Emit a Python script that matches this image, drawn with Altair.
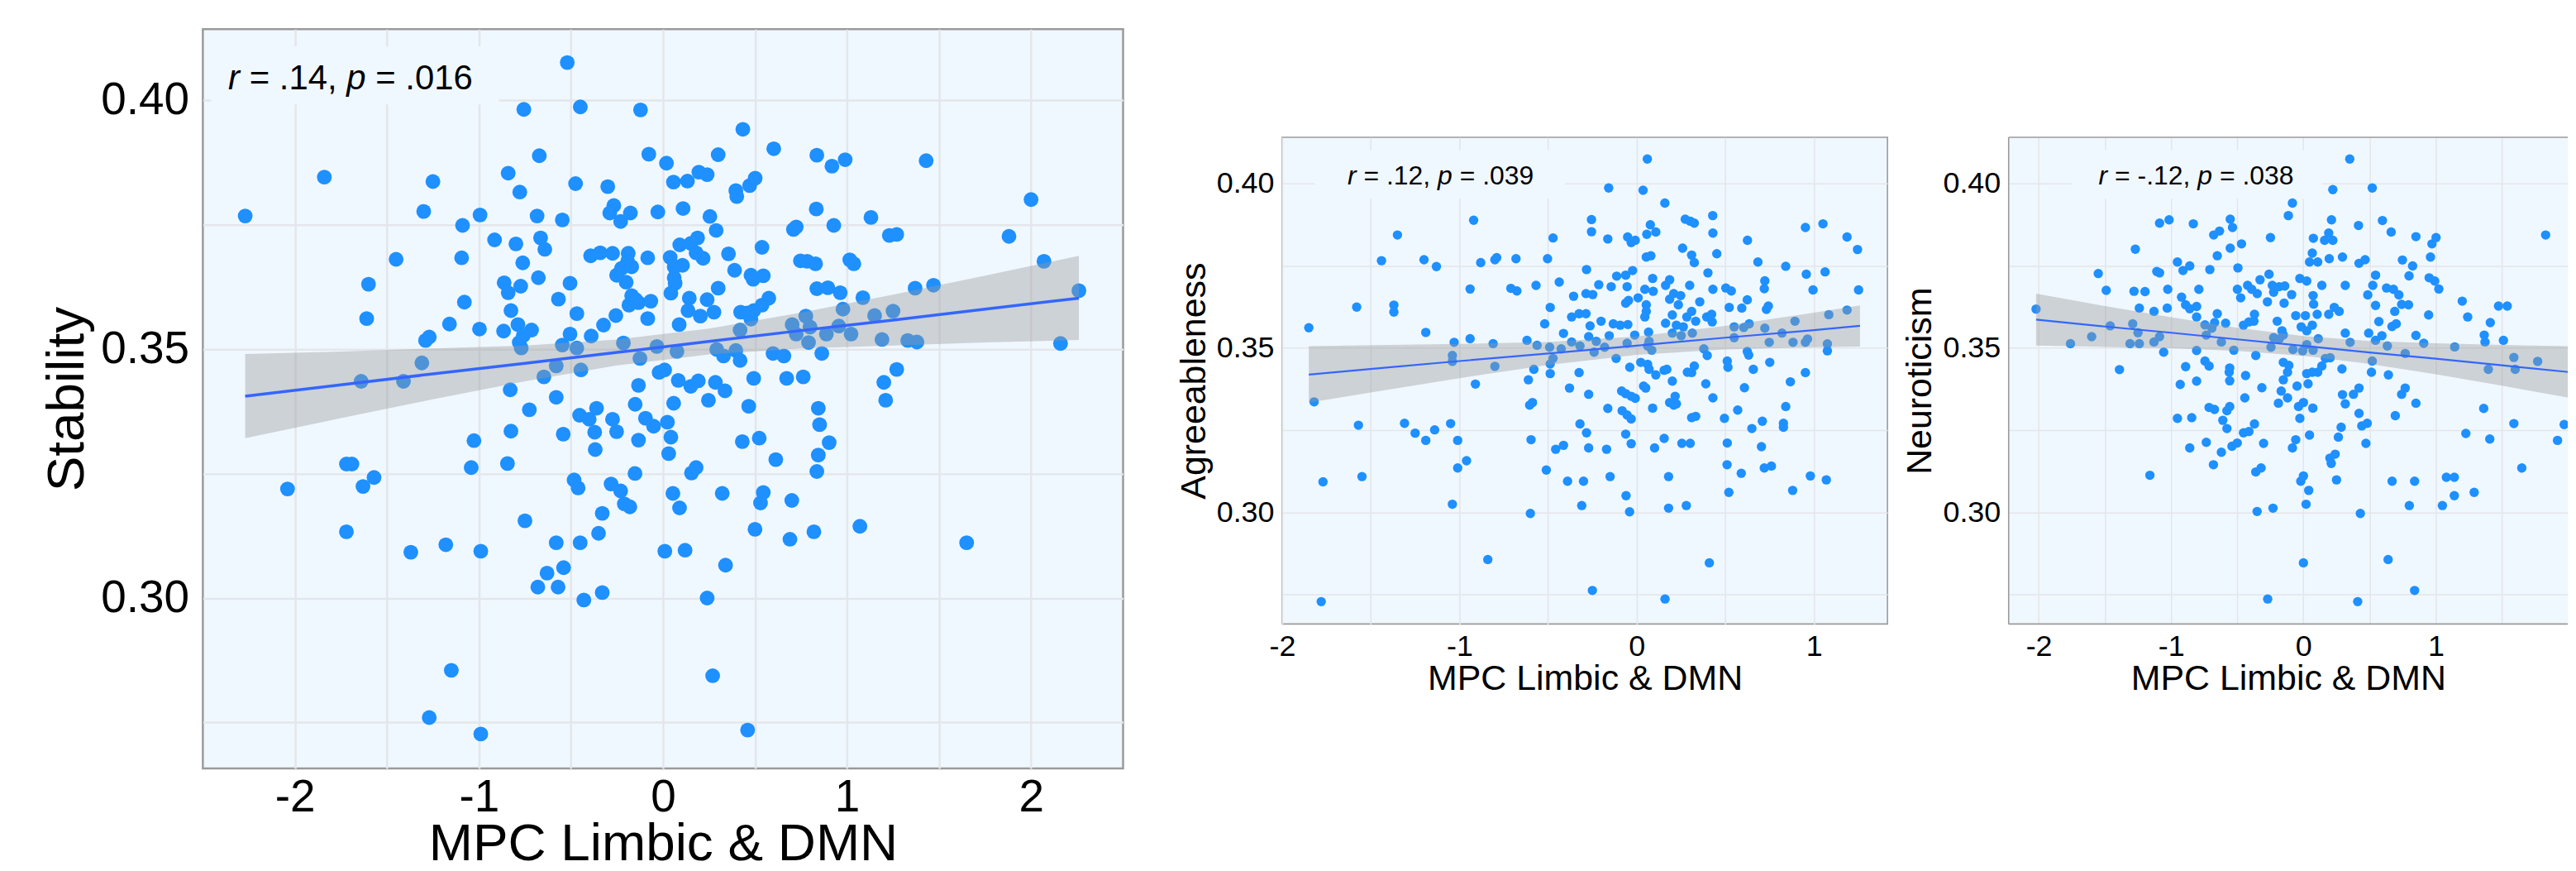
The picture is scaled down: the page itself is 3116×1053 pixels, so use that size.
import altair as alt
import pandas as pd

FONT = "Liberation Sans"
BG = "#F0F8FF"
PT = "#1E90FF"
LINE = "#3366FF"
GRID = "#E3E6EA"
BORDER = "#9A9A9A"
XTITLE = "MPC Limbic & DMN"

# ---------------- Panel 1: Stability ----------------
stability_points = [
    (-2.27, 0.3767), (-2.04, 0.3219), (-1.84, 0.3845), (-1.72, 0.3269), (-1.69, 0.3269),
    (-1.72, 0.3133), (-1.64, 0.3435), (-1.63, 0.3224), (-1.57, 0.3242), (-1.61, 0.3561),
    (-1.60, 0.3630), (-1.45, 0.3680), (-1.41, 0.3435), (-1.37, 0.3092), (-1.31, 0.3472),
    (-1.30, 0.3776), (-1.29, 0.3517), (-1.27, 0.3524), (-1.25, 0.3836), (-1.27, 0.2760),
    (-1.18, 0.3107), (-1.15, 0.2855), (-1.16, 0.3550),
    (-0.99, 0.3094), (-0.99, 0.2727), (-0.75, 0.3155), (-0.68, 0.3022), (-0.63, 0.3050),
    (-0.58, 0.3111), (-0.57, 0.3022), (-0.54, 0.3061), (-0.45, 0.3111), (-0.43, 0.2996),
    (-0.33, 0.3011), (-0.33, 0.3170), (-0.35, 0.3130), (-0.21, 0.3189), (-0.18, 0.3183),
    (0.01, 0.3094), (0.09, 0.3181), (0.12, 0.3096), (0.24, 0.3000), (0.27, 0.2844),
    (0.34, 0.3066), (0.46, 0.2735), (0.50, 0.3138), (0.53, 0.3191), (0.69, 0.3118),
    (0.70, 0.3196), (0.82, 0.3133), (1.07, 0.3144), (-0.52, 0.4075),
    (1.13, 0.3764), (1.15, 0.3567), (1.19, 0.3519), (1.20, 0.3433), (1.21, 0.3397),
    (1.23, 0.3728), (1.27, 0.3730), (1.25, 0.3576), (1.27, 0.3459), (1.33, 0.3517),
    (1.38, 0.3514), (1.37, 0.3622), (1.43, 0.3878), (1.47, 0.3628), (1.65, 0.3111),
    (1.88, 0.3726), (2.00, 0.3800), (2.07, 0.3676), (2.16, 0.3511), (2.26, 0.3617),
    (-0.756, 0.3981), (-0.449, 0.3986), (-0.122, 0.3980), (0.434, 0.3941), (0.602, 0.3902),
    (0.836, 0.3889), (0.918, 0.3867), (0.990, 0.3880), (-0.672, 0.3888), (-0.841, 0.3853),
    (-0.778, 0.3815), (-0.475, 0.3832), (-0.300, 0.3826), (-0.077, 0.3891), (0.019, 0.3873),
    (0.057, 0.3835), (0.133, 0.3837), (0.195, 0.3855), (0.240, 0.3850), (0.300, 0.3890),
    (0.396, 0.3818), (0.401, 0.3806), (0.471, 0.3828), (0.501, 0.3843), (0.833, 0.3781),
    (0.928, 0.3748), (0.709, 0.3740), (0.724, 0.3745), (-1.089, 0.3748), (-0.994, 0.3769),
    (-0.684, 0.3767), (-0.547, 0.3759), (-0.267, 0.3788), (-0.289, 0.3773), (-0.230, 0.3756),
    (-0.177, 0.3773), (-0.028, 0.3775), (0.109, 0.3782), (0.255, 0.3766), (0.289, 0.3738),
    (-1.094, 0.3683), (-0.915, 0.3719), (-0.799, 0.3711), (-0.665, 0.3723), (-0.642, 0.3700),
    (-0.762, 0.3673), (-0.677, 0.3643), (-0.393, 0.3687), (-0.341, 0.3693), (-0.274, 0.3692),
    (-0.189, 0.3692), (-0.192, 0.3676), (-0.252, 0.3648), (-0.225, 0.3662), (-0.170, 0.3665),
    (-0.200, 0.3634), (-0.083, 0.3683), (0.039, 0.3684), (0.091, 0.3709), (0.151, 0.3712),
    (0.188, 0.3723), (0.061, 0.3665), (0.106, 0.3668), (0.180, 0.3693), (0.218, 0.3682),
    (0.061, 0.3643), (0.066, 0.3632), (0.043, 0.3612), (0.356, 0.3691), (0.389, 0.3658),
    (0.538, 0.3704), (0.478, 0.3648), (0.545, 0.3647), (0.490, 0.3640), (0.747, 0.3677),
    (0.784, 0.3676), (0.829, 0.3671), (1.015, 0.3679), (1.037, 0.3671), (0.300, 0.3622),
    (0.836, 0.3621), (0.896, 0.3623), (0.963, 0.3613), (1.086, 0.3603), (-1.079, 0.3594),
    (-0.863, 0.3633), (-0.841, 0.3613), (-0.773, 0.3626), (-0.826, 0.3577), (-0.505, 0.3632),
    (-0.568, 0.3600), (-0.468, 0.3571), (-0.997, 0.3540), (-0.866, 0.3536), (-0.788, 0.3549),
    (-0.714, 0.3538), (-0.759, 0.3527), (-0.781, 0.3513), (-0.770, 0.3502), (-0.647, 0.3444),
    (-0.580, 0.3466), (-0.547, 0.3508), (-0.505, 0.3530), (-0.468, 0.3502), (-0.446, 0.3458),
    (-0.390, 0.3526), (-0.323, 0.3548), (-0.256, 0.3567), (-0.185, 0.3588), (-0.133, 0.3593),
    (-0.066, 0.3596), (-0.170, 0.3607), (-0.148, 0.3599), (-0.083, 0.3561), (-0.215, 0.3512),
    (-0.125, 0.3481), (-0.033, 0.3505), (0.076, 0.3495), (0.088, 0.3549), (0.143, 0.3602),
    (0.136, 0.3577), (0.203, 0.3566), (0.240, 0.3599), (0.277, 0.3574), (0.422, 0.3574),
    (0.456, 0.3572), (0.493, 0.3577), (0.538, 0.3588), (0.575, 0.3602), (0.478, 0.3560),
    (0.419, 0.3538), (0.292, 0.3499), (0.329, 0.3486), (0.396, 0.3497), (0.419, 0.3477),
    (0.598, 0.3491), (0.657, 0.3486), (0.702, 0.3549), (0.724, 0.3530), (0.776, 0.3566),
    (0.799, 0.3544), (0.791, 0.3513), (0.863, 0.3491), (0.888, 0.3530), (0.955, 0.3546),
    (0.978, 0.3580), (1.022, 0.3530), (0.493, 0.3441), (0.672, 0.3441), (0.762, 0.3444),
    (-0.830, 0.3418), (-0.580, 0.3403), (-0.726, 0.3378), (-0.826, 0.3335), (-1.027, 0.3316),
    (-1.042, 0.3262), (-0.845, 0.3270), (-0.542, 0.3329), (-0.453, 0.3367), (-0.401, 0.3359),
    (-0.361, 0.3381), (-0.371, 0.3333), (-0.368, 0.3298), (-0.274, 0.3359), (-0.252, 0.3334),
    (-0.133, 0.3427), (-0.151, 0.3389), (-0.133, 0.3317), (-0.095, 0.3361), (-0.051, 0.3345),
    (-0.021, 0.3453), (0.009, 0.3458), (0.058, 0.3391), (0.024, 0.3353), (0.043, 0.3323),
    (0.031, 0.3290), (0.083, 0.3437), (0.151, 0.3425), (0.192, 0.3436), (0.285, 0.3433),
    (0.337, 0.3416), (0.247, 0.3397), (0.466, 0.3385), (0.431, 0.3314), (0.523, 0.3321),
    (0.613, 0.3278), (0.844, 0.3381), (0.851, 0.3348), (0.903, 0.3312), (0.844, 0.3287),
    (0.836, 0.3254), (-0.483, 0.3237), (-0.461, 0.3221), (-0.282, 0.3229), (-0.230, 0.3215),
    (-0.152, 0.3250), (0.155, 0.3251), (0.180, 0.3262), (0.054, 0.3210), (0.322, 0.3210),
    (0.545, 0.3212),
]
stability_fit_x = [-2.27, -1.75, -1.25, -0.75, -0.25, 0.25, 0.75, 1.25, 1.75, 2.26]
stability_fit_y = [0.3405, 0.3428, 0.3450, 0.3471, 0.3493, 0.3515, 0.3537, 0.3558, 0.3580, 0.3602]
stability_ci_lo = [0.3321, 0.3361, 0.3399, 0.3435, 0.3467, 0.3489, 0.3501, 0.3507, 0.3513, 0.3518]
stability_ci_hi = [0.3490, 0.3495, 0.3501, 0.3507, 0.3519, 0.3541, 0.3573, 0.3609, 0.3647, 0.3687]

# ---------------- Panel 2: Agreeableness ----------------
agree_points = [
    (-1.85, 0.3561), (-1.82, 0.3336), (-1.77, 0.3093), (-1.78, 0.2729), (-1.58, 0.3624),
    (-1.57, 0.3265), (-1.55, 0.3109), (-1.44, 0.3765), (-1.37, 0.3630), (-1.37, 0.3609),
    (-1.35, 0.3843), (-1.31, 0.3271), (-1.25, 0.3241), (-1.20, 0.3768), (-1.19, 0.3547),
    (-1.19, 0.3219), (-1.14, 0.3251), (-1.13, 0.3747), (-1.05, 0.3270), (-1.04, 0.3025),
    (-1.04, 0.3477), (-1.04, 0.3459), (-1.03, 0.3517), (-1.01, 0.3219), (-1.01, 0.3135),
    (-0.96, 0.3157), (-0.94, 0.3679), (-0.94, 0.3528), (-0.92, 0.3888), (-0.91, 0.3390),
    (-0.88, 0.3759), (-0.84, 0.2857), (-0.81, 0.3513), (-0.80, 0.3444), (-0.80, 0.3768),
    (-0.79, 0.3774), (-0.71, 0.3681),
    (-0.60, 0.2997), (-0.51, 0.3129), (-0.39, 0.3095), (-0.30, 0.3095), (-0.31, 0.3021),
    (-0.25, 0.2763), (-0.15, 0.3109), (-0.06, 0.3051), (-0.04, 0.3002), (0.18, 0.3109),
    (0.18, 0.3013), (0.16, 0.2737), (0.28, 0.3021), (0.41, 0.2847), (0.51, 0.3145),
    (0.52, 0.3061), (0.59, 0.3119), (0.72, 0.3135), (0.76, 0.3141), (0.88, 0.3067),
    (0.98, 0.3111), (1.07, 0.3099), (0.06, 0.4074),
    (-0.158, 0.3986), (0.036, 0.3979), (0.159, 0.3940), (-0.255, 0.3890), (-0.255, 0.3853),
    (-0.472, 0.3834), (-0.681, 0.3771), (-0.503, 0.3771), (-0.163, 0.3831), (-0.051, 0.3837),
    (-0.031, 0.3820), (-0.008, 0.3827), (0.057, 0.3845), (0.077, 0.3874), (0.108, 0.3852),
    (0.054, 0.3776), (0.080, 0.3780), (0.274, 0.3891), (0.302, 0.3885), (0.325, 0.3879),
    (0.429, 0.3902), (0.430, 0.3849), (0.452, 0.3786), (0.259, 0.3803), (0.310, 0.3782),
    (0.325, 0.3759), (0.625, 0.3827), (0.684, 0.3761), (0.841, 0.3748), (0.952, 0.3866),
    (1.051, 0.3877), (1.187, 0.3837), (1.246, 0.3799), (0.957, 0.3724), (1.063, 0.3731),
    (0.995, 0.3676), (1.252, 0.3676), (-0.676, 0.3673), (-0.568, 0.3690), (-0.437, 0.3700),
    (-0.283, 0.3738), (-0.356, 0.3657), (-0.286, 0.3665), (-0.248, 0.3662), (-0.214, 0.3692),
    (-0.144, 0.3686), (-0.113, 0.3718), (-0.062, 0.3721), (-0.023, 0.3735), (-0.054, 0.3686),
    (-0.488, 0.3623), (-0.519, 0.3573), (-0.367, 0.3594), (-0.325, 0.3604), (-0.286, 0.3604),
    (-0.263, 0.3567), (-0.201, 0.3581), (-0.132, 0.3573), (-0.093, 0.3569), (-0.050, 0.3571),
    (-0.062, 0.3636), (-0.046, 0.3644), (0.008, 0.3652), (0.046, 0.3678), (0.093, 0.3672),
    (0.054, 0.3631), (0.054, 0.3611), (0.046, 0.3594), (0.090, 0.3711), (0.163, 0.3690),
    (0.186, 0.3707), (0.186, 0.3648), (0.209, 0.3665), (0.248, 0.3659), (0.235, 0.3631),
    (0.299, 0.3690), (0.356, 0.3640), (0.163, 0.3575), (0.201, 0.3600), (0.224, 0.3569),
    (0.263, 0.3564), (0.283, 0.3594), (0.310, 0.3611), (0.333, 0.3581), (0.201, 0.3545),
    (0.251, 0.3537), (0.314, 0.3545), (0.402, 0.3728), (0.430, 0.3678), (0.503, 0.3682),
    (0.534, 0.3673), (0.395, 0.3594), (0.423, 0.3602), (0.426, 0.3579), (0.522, 0.3623),
    (0.593, 0.3621), (0.624, 0.3646), (0.723, 0.3704), (0.720, 0.3680), (0.732, 0.3617),
    (0.743, 0.3627), (0.550, 0.3564), (0.604, 0.3562), (0.635, 0.3573), (0.723, 0.3560),
    (0.893, 0.3581), (0.820, 0.3545), (1.084, 0.3601), (1.187, 0.3615), (-0.619, 0.3523),
    (-0.562, 0.3508), (-0.491, 0.3502), (-0.472, 0.3468), (-0.488, 0.3451), (-0.426, 0.3497),
    (-0.413, 0.3544), (-0.367, 0.3518), (-0.320, 0.3506), (-0.271, 0.3534), (-0.228, 0.3520),
    (-0.240, 0.3487), (-0.181, 0.3502), (-0.155, 0.3537), (-0.054, 0.3514), (-0.011, 0.3539),
    (0.067, 0.3548), (0.070, 0.3520), (0.085, 0.3493), (0.062, 0.3506), (-0.116, 0.3468),
    (0.379, 0.3497), (0.398, 0.3477), (0.550, 0.3531), (0.624, 0.3489), (0.632, 0.3478),
    (0.748, 0.3517), (0.882, 0.3517), (0.952, 0.3517), (0.964, 0.3527), (1.076, 0.3512),
    (1.076, 0.3491), (-0.580, 0.3435), (-0.611, 0.3403), (-0.488, 0.3422), (-0.325, 0.3425),
    (-0.379, 0.3378), (-0.271, 0.3359), (-0.604, 0.3326), (-0.588, 0.3334), (-0.039, 0.3441),
    (0.023, 0.3456), (0.062, 0.3450), (0.070, 0.3435), (0.108, 0.3418), (0.155, 0.3432),
    (0.170, 0.3435), (0.201, 0.3399), (0.286, 0.3426), (0.310, 0.3425), (0.325, 0.3445),
    (0.039, 0.3384), (0.051, 0.3378), (-0.085, 0.3369), (-0.062, 0.3361), (-0.031, 0.3353),
    (-0.008, 0.3347), (0.217, 0.3353), (0.186, 0.3334), (0.209, 0.3326), (0.224, 0.3330),
    (0.090, 0.3317), (-0.163, 0.3316), (-0.082, 0.3309), (-0.054, 0.3296), (-0.031, 0.3284),
    (-0.320, 0.3269), (-0.283, 0.3242), (-0.596, 0.3221), (-0.062, 0.3238), (-0.031, 0.3209),
    (0.155, 0.3225), (0.255, 0.3210), (0.302, 0.3210), (0.310, 0.3288), (0.333, 0.3292),
    (0.390, 0.3391), (0.430, 0.3348), (0.511, 0.3460), (0.515, 0.3441), (0.608, 0.3379),
    (0.658, 0.3435), (0.751, 0.3456), (0.495, 0.3286), (0.570, 0.3311), (0.650, 0.3255),
    (0.709, 0.3277), (0.867, 0.3397), (0.952, 0.3425), (0.841, 0.3322), (0.828, 0.3271),
    (0.828, 0.3259), (0.511, 0.3211), (0.704, 0.3200), (-0.413, 0.3204), (-0.457, 0.3192),
    (-0.271, 0.3196), (-0.170, 0.3192), (0.101, 0.3196),
]
agree_fit_x = [-1.85, -1.4, -1.0, -0.5, 0.0, 0.5, 1.0, 1.26]
agree_fit_y = [0.3419, 0.3441, 0.3460, 0.3483, 0.3507, 0.3531, 0.3554, 0.3567]
agree_ci_lo = [0.3334, 0.3373, 0.3408, 0.3448, 0.3479, 0.3495, 0.3502, 0.3504]
agree_ci_hi = [0.3505, 0.3509, 0.3512, 0.3518, 0.3535, 0.3567, 0.3607, 0.3629]

# ---------------- Panel 3: Neuroticism ----------------
neuro_points = [
    (-2.02, 0.3618), (-1.76, 0.3513), (-1.60, 0.3534), (-1.55, 0.3726), (-1.49, 0.3675),
    (-1.46, 0.3567), (-1.39, 0.3434), (-1.31, 0.3513), (-1.29, 0.3573), (-1.27, 0.3800),
    (-1.28, 0.3672), (-1.24, 0.3621), (-1.25, 0.3546), (-1.24, 0.3513), (-1.16, 0.3113),
    (1.54, 0.3627), (1.59, 0.3471), (1.60, 0.3435), (1.59, 0.3270), (1.65, 0.3135),
    (1.77, 0.3459), (1.83, 0.3843), (1.92, 0.3219), (1.97, 0.3267),
    (-0.68, 0.3145), (-0.36, 0.3123), (-0.32, 0.3135), (-0.35, 0.3003), (-0.23, 0.3013),
    (-0.27, 0.2737), (-0.02, 0.3095), (0.00, 0.3111), (0.04, 0.3067), (0.02, 0.3025),
    (0.00, 0.2847), (0.20, 0.3165), (0.21, 0.3149), (0.25, 0.3099), (0.24, 0.3177),
    (0.43, 0.2997), (0.41, 0.2729), (0.64, 0.2857), (0.67, 0.3095), (0.80, 0.3021),
    (0.84, 0.3095), (0.84, 0.2763), (1.05, 0.3021), (1.08, 0.3107), (1.14, 0.3107),
    (1.14, 0.3051), (1.29, 0.3061), (0.35, 0.4074), (-0.62, 0.3183), (-0.54, 0.3201),
    (-0.50, 0.3211),
    (0.222, 0.3981), (0.520, 0.3986), (-0.083, 0.3940), (-0.114, 0.3902), (-1.087, 0.3879),
    (-1.015, 0.3889), (-0.832, 0.3877), (-0.553, 0.3891), (-0.536, 0.3866), (-0.678, 0.3843),
    (-0.634, 0.3855), (-0.468, 0.3816), (-0.553, 0.3803), (-0.651, 0.3780), (-0.249, 0.3835),
    (-0.952, 0.3761), (-0.910, 0.3735), (-0.859, 0.3749), (-0.707, 0.3738), (-0.495, 0.3743),
    (-1.108, 0.3732), (-1.087, 0.3728), (-1.197, 0.3671), (-1.025, 0.3678), (-0.790, 0.3678),
    (-1.129, 0.3611), (-1.029, 0.3621), (-0.921, 0.3654), (-0.890, 0.3631), (-0.807, 0.3626),
    (-0.859, 0.3619), (-0.651, 0.3604), (-0.807, 0.3594), (-0.744, 0.3570), (-0.692, 0.3560),
    (-0.671, 0.3577), (-0.588, 0.3575), (-0.734, 0.3539), (-0.620, 0.3518), (-1.129, 0.3518),
    (-1.087, 0.3534), (-1.056, 0.3487), (-0.807, 0.3492), (-0.526, 0.3493), (-0.360, 0.3477),
    (-0.499, 0.3678), (-0.474, 0.3652), (-0.422, 0.3690), (-0.391, 0.3678), (-0.349, 0.3665),
    (-0.328, 0.3707), (-0.260, 0.3724), (-0.235, 0.3690), (-0.225, 0.3669), (-0.183, 0.3686),
    (-0.141, 0.3688), (-0.089, 0.3662), (-0.272, 0.3640), (-0.146, 0.3636), (-0.453, 0.3569),
    (-0.412, 0.3579), (-0.370, 0.3602), (-0.374, 0.3581), (-0.198, 0.3581), (-0.162, 0.3552),
    (-0.152, 0.3539), (-0.225, 0.3531), (-0.183, 0.3527), (-0.245, 0.3502), (-0.058, 0.3598),
    (0.015, 0.3598), (-0.017, 0.3564), (0.025, 0.3552), (0.067, 0.3569), (-0.027, 0.3711),
    (0.025, 0.3703), (0.073, 0.3659), (0.077, 0.3633), (0.139, 0.3690), (0.104, 0.3602),
    (0.075, 0.3833), (0.046, 0.3761), (0.067, 0.3788), (0.108, 0.3761), (0.160, 0.3827),
    (0.191, 0.3849), (0.222, 0.3827), (0.195, 0.3771), (0.212, 0.3889), (0.295, 0.3776),
    (0.416, 0.3872), (0.420, 0.3757), (0.466, 0.3768), (0.316, 0.3690), (0.191, 0.3602),
    (0.233, 0.3623), (0.270, 0.3611), (0.112, 0.3528), (0.316, 0.3545), (0.353, 0.3517),
    (-0.079, 0.3495), (-0.006, 0.3491), (0.025, 0.3510), (0.073, 0.3493), (0.166, 0.3468),
    (0.202, 0.3470), (0.597, 0.3887), (0.663, 0.3852), (0.545, 0.3721), (0.524, 0.3690),
    (0.486, 0.3661), (0.545, 0.3629), (0.628, 0.3682), (0.680, 0.3678), (0.721, 0.3661),
    (0.742, 0.3632), (0.690, 0.3611), (0.748, 0.3767), (0.825, 0.3749), (0.798, 0.3719),
    (0.850, 0.3838), (0.971, 0.3816), (1.002, 0.3835), (0.960, 0.3776), (0.950, 0.3713),
    (0.992, 0.3703), (1.023, 0.3679), (0.794, 0.3631), (0.946, 0.3600), (0.570, 0.3580),
    (0.493, 0.3545), (0.545, 0.3523), (0.593, 0.3537), (0.669, 0.3565), (0.701, 0.3573),
    (0.850, 0.3538), (0.909, 0.3514), (1.143, 0.3503), (1.200, 0.3642), (1.241, 0.3594),
    (1.366, 0.3539), (1.372, 0.3518), (1.412, 0.3577), (1.474, 0.3627), (1.511, 0.3523),
    (0.769, 0.3483), (0.634, 0.3506), (0.520, 0.3460), (0.514, 0.3426), (0.642, 0.3418),
    (0.291, 0.3436), (0.139, 0.3445), (0.108, 0.3426), (0.025, 0.3422), (0.067, 0.3426),
    (-0.152, 0.3456), (-0.110, 0.3447), (-0.120, 0.3426), (-0.152, 0.3403), (-0.048, 0.3384),
    (0.035, 0.3391), (-0.168, 0.3369), (-0.120, 0.3348), (-0.189, 0.3332), (-0.037, 0.3322),
    (0.000, 0.3334), (0.071, 0.3317), (-0.027, 0.3286), (-0.058, 0.3221), (0.046, 0.3235),
    (0.295, 0.3358), (0.316, 0.3330), (0.378, 0.3359), (0.420, 0.3378), (0.285, 0.3259),
    (0.420, 0.3301), (0.441, 0.3263), (0.482, 0.3271), (0.264, 0.3229), (0.472, 0.3210),
    (0.694, 0.3294), (0.742, 0.3359), (0.769, 0.3378), (0.850, 0.3332), (1.362, 0.3316),
    (1.227, 0.3240), (1.408, 0.3223), (1.397, 0.3435), (-0.890, 0.3443), (-0.744, 0.3460),
    (-0.713, 0.3445), (-0.931, 0.3389), (-0.807, 0.3399), (-0.557, 0.3439), (-0.561, 0.3426),
    (-0.557, 0.3400), (-0.437, 0.3416), (-0.314, 0.3379), (-0.443, 0.3348), (-0.713, 0.3319),
    (-0.672, 0.3313), (-0.578, 0.3309), (-0.557, 0.3322), (-0.609, 0.3280), (-0.578, 0.3255),
    (-0.952, 0.3286), (-0.844, 0.3288), (-0.453, 0.3242), (-0.412, 0.3246), (-0.370, 0.3269),
    (-0.859, 0.3196), (-0.734, 0.3213), (-0.301, 0.3210), (-0.083, 0.3196),
]
neuro_fit_x = [-2.02, -1.5, -1.0, -0.5, 0.0, 0.5, 1.0, 1.5, 2.12]
neuro_fit_y = [0.3586, 0.3565, 0.3546, 0.3526, 0.3506, 0.3486, 0.3467, 0.3447, 0.3422]
neuro_ci_lo = [0.3507, 0.3503, 0.3499, 0.3491, 0.3476, 0.3451, 0.3420, 0.3385, 0.3340]
neuro_ci_hi = [0.3665, 0.3627, 0.3593, 0.3561, 0.3536, 0.3521, 0.3514, 0.3509, 0.3504]

# annotation texts (italic / plain pieces)
stability_label = ["r", "= .14,", "p", "= .016"]
agree_label = ["r", "= .12,", "p", "= .039"]
neuro_label = ["r", "= -.12,", "p", "= .038"]

Y_VALUES = [0.275, 0.3, 0.325, 0.35, 0.375, 0.4]


def panel(points, fx, fy, lo, hi, ytitle, xdom, ydom, xvals, w, h, st,
          label, label_xy, box, open_right=False):
    pts = pd.DataFrame(points, columns=["x", "y"])
    fit = pd.DataFrame({"x": fx, "y": fy, "lo": lo, "hi": hi})
    xs = alt.Scale(domain=xdom, nice=False, zero=False)
    ys = alt.Scale(domain=ydom, nice=False, zero=False)
    common = dict(grid=True, gridColor=GRID, gridWidth=st["grid"], ticks=False,
                  domain=False, labelFont=FONT, titleFont=FONT,
                  labelFontSize=st["lab"], titleFontSize=st["tit"],
                  labelColor="black", titleColor="black", titleFontWeight="normal",
                  labelOverlap=False)
    xaxis = alt.Axis(values=xvals, title=XTITLE,
                     labelExpr="datum.value % 1 == 0 ? '' + datum.value : ''",
                     labelPadding=st["xlp"], titlePadding=st["xtp"],
                     labelFlush=False, **common)
    yaxis = alt.Axis(values=Y_VALUES, title=ytitle,
                     labelExpr="round(datum.value * 1000) % 50 == 0 ? format(datum.value, '.2f') : ''",
                     labelPadding=st["ylp"], titlePadding=st["ytp"], **common)

    def X(f):
        return alt.X(f, type="quantitative", scale=xs, axis=xaxis)

    def Y(f):
        return alt.Y(f, type="quantitative", scale=ys, axis=yaxis)

    boxdf = pd.DataFrame({"x": [box[0]], "x2": [box[1]], "y": [box[2]], "y2": [box[3]]})
    rect = alt.Chart(boxdf).mark_rect(color=BG, clip=True).encode(x=X("x"), x2="x2", y=Y("y"), y2="y2")
    dots = alt.Chart(pts).mark_circle(size=st["pt"], color=PT, opacity=1, clip=True).encode(
        x=X("x"), y=Y("y"))
    band = alt.Chart(fit).mark_area(color="#999999", opacity=0.4, clip=True).encode(
        x=X("x"), y=Y("lo"), y2="hi")
    line = alt.Chart(fit).mark_line(color=LINE, strokeWidth=st["lw"], clip=True).encode(
        x=X("x"), y=Y("y"))
    adf = pd.DataFrame({"x": [label_xy[0]], "y": [label_xy[1]]})
    f = st["ann"]
    layers = [rect, dots, band, line]
    for piece, off in zip(label, st["offs"]):
        style = "italic" if piece in ("r", "p") else "normal"
        layers.append(
            alt.Chart(adf).mark_text(text=piece, align="left", baseline="alphabetic", font=FONT,
                                     fontSize=f, fontStyle=style, color="black", dx=off)
            .encode(x=X("x"), y=Y("y"))
        )
    if open_right:
        # panel continues past the figure edge: frame only on left, top and bottom
        frame = alt.Chart(adf).mark_rule(color=BORDER, strokeWidth=st["bw"])
        layers += [
            frame.encode(x=alt.value(0), y=alt.value(0), y2=alt.value(h)),
            frame.encode(x=alt.value(0), x2=alt.value(w), y=alt.value(0)),
            frame.encode(x=alt.value(0), x2=alt.value(w), y=alt.value(h)),
        ]
        view = alt.ViewBackground(fill=BG, stroke="transparent")
    else:
        view = alt.ViewBackground(fill=BG, stroke=BORDER, strokeWidth=st["bw"])
    return alt.layer(*layers).properties(width=w, height=h, view=view)


st1 = dict(grid=2.5, lab=55, tit=64, xlp=9, xtp=-3, ylp=17, ytp=8, pt=320, lw=3.5, bw=2.5,
           ann=42, offs=[0, 25.7, 143.6, 178.6])
st2 = dict(grid=1.6, lab=36, tit=43, xlp=10, xtp=0, ylp=10, ytp=5, pt=130, lw=2.2, bw=1.6,
           ann=32, offs=[0, 19.6, 109.4, 136.1])
st3 = dict(st2, offs=[0, 19.6, 120.1, 146.8])

p1 = panel(stability_points, stability_fit_x, stability_fit_y, stability_ci_lo, stability_ci_hi,
           "Stability", [-2.5, 2.5], [0.2658, 0.4142],
           [-2, -1.5, -1, -0.5, 0, 0.5, 1, 1.5, 2], 1116, 896, st1,
           stability_label, (-2.362, 0.4021), (-2.455, -0.891, 0.3991, 0.4107))
p2 = panel(agree_points, agree_fit_x, agree_fit_y, agree_ci_lo, agree_ci_hi,
           "Agreeableness", [-2.0, 1.415], [0.2661, 0.4140],
           [-2, -1.5, -1, -0.5, 0, 0.5, 1], 734, 590, st2,
           agree_label, (-1.632, 0.3996), (-1.818, -0.403, 0.3953, 0.4101))
# the right-most panel runs off the edge of the figure in the reference
p3 = panel(neuro_points, neuro_fit_x, neuro_fit_y, neuro_ci_lo, neuro_ci_hi,
           "Neuroticism", [-2.227, 1.997], [0.2661, 0.4140],
           [-2, -1.5, -1, -0.5, 0, 0.5, 1, 1.5], 678, 590, st3,
           neuro_label, (-1.548, 0.3996), (-1.747, 0.141, 0.3953, 0.4101), open_right=True)

spacer = alt.Chart(pd.DataFrame({"a": [0]})).mark_point(opacity=0).encode(
    x=alt.X("a:Q", axis=None), y=alt.Y("a:Q", axis=None)
).properties(width=10, height=130.5, view=alt.ViewBackground(stroke="transparent", fill="transparent"))

right = alt.vconcat(spacer, alt.hconcat(p2, p3, spacing=147, bounds="flush"),
                    spacing=0, bounds="flush")
chart = alt.hconcat(p1, right, spacing=193, bounds="flush").properties(
    padding={"left": 40, "top": 24, "right": 0, "bottom": -12}
).configure(background="white")

chart.save("out.html", embed_options={"renderer": "svg", "actions": False})
